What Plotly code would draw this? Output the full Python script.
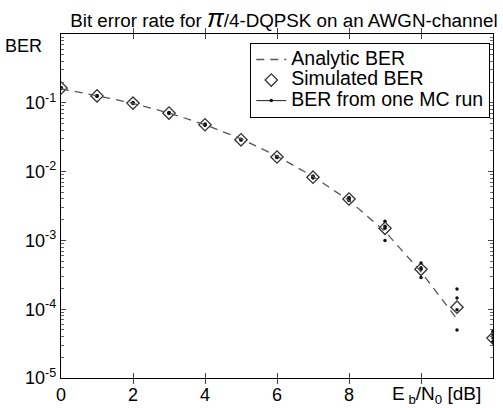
import plotly.graph_objects as go

ebn0 = [0, 1, 2, 3, 4, 5, 6, 7, 8, 9, 10, 11, 12]
ebn0_analytic = [0, 1, 2, 3, 4, 5, 6, 7, 8, 9, 10, 11]
ber_analytic = [0.160, 0.127, 0.098, 0.071, 0.048, 0.030, 0.0168, 0.0085, 0.0038,
                0.00135, 0.00035, 0.000072]
ber_simulated = [0.164, 0.126, 0.099, 0.071, 0.048, 0.029, 0.0163, 0.0083, 0.0040,
                 0.0015, 0.00038, 0.000107, 0.000038]
mc_run1 = [0.166, 0.127, 0.100, 0.072, 0.049, 0.0295, 0.0166, 0.0086, 0.0042, 0.0019, 0.00047, 0.000196, 0.000048]
mc_run2 = [0.163, 0.125, 0.098, 0.070, 0.047, 0.0288, 0.0160, 0.0081, 0.0039, 0.0010, 0.00029, 0.000145, 0.000042]
mc_run3 = [0.165, 0.126, 0.099, 0.071, 0.048, 0.0290, 0.0164, 0.0084, 0.0041, 0.0015, 0.00038, 0.000098, 0.000038]
mc_run4 = [0.162, 0.126, 0.099, 0.071, 0.048, 0.0292, 0.0162, 0.0082, 0.0038, 0.0016, 0.00040, 0.000050, 0.000034]

series_names = ["Analytic BER", "Simulated BER", "BER from one MC run"]
x_ticks = [0, 2, 4, 6, 8, 10, 12]
x_ticktext = ["0", "2", "4", "6", "8", "", ""]
y_ticks = [1e-5, 1e-4, 1e-3, 1e-2, 1e-1, 1]
y_ticktext = ["10<sup>-5</sup>", "10<sup>-4</sup>", "10<sup>-3</sup>",
              "10<sup>-2</sup>", "10<sup>-1</sup>", ""]
y_minor = [m * 10.0 ** e for e in range(-5, 0) for m in range(2, 10)]

FONT = "Liberation Sans, Arial, Helvetica, sans-serif"


def legend_label(s):
    # larger glyphs than the legend's nominal size -> compact row spacing like the reference
    return "<span style='font-size:19.5px'>" + s + "</span>"


# MC points: isolated points (no connecting line drawn), legend shows line+dot
mc_x, mc_y = [], []
for run in (mc_run1, mc_run2, mc_run3, mc_run4):
    for xv, yv in zip(ebn0, run):
        mc_x += [xv, None]
        mc_y += [yv, None]

fig = go.Figure()
# analytic line drawn on the overlaid (identical-range) axis that carries the minor ticks
fig.add_trace(go.Scatter(
    x=ebn0_analytic, y=ber_analytic, mode="lines", name=legend_label(series_names[0]), yaxis="y2",
    line=dict(color="#555555", width=1.3, dash="8px,6px")))
fig.add_trace(go.Scatter(
    x=ebn0, y=ber_simulated, mode="markers", name=legend_label(series_names[1]),
    marker=dict(symbol="diamond-open", size=9.5, color="#333333",
                line=dict(width=1.3, color="#333333"))))
fig.add_trace(go.Scatter(
    x=mc_x, y=mc_y, mode="lines+markers", name=legend_label(series_names[2]),
    connectgaps=False,
    line=dict(color="#222222", width=1),
    marker=dict(symbol="circle", size=3.5, color="#111111")))

fig.update_layout(
    width=503, height=408,
    margin=dict(l=61, r=10, t=34, b=30),
    paper_bgcolor="white", plot_bgcolor="white",
    font=dict(family=FONT, size=18, color="black"),
    title=dict(text="Bit error rate for <i><span style='font-size:25px'>π</span></i>/4-DQPSK on an AWGN-channel",
               xref="paper", x=0.516, xanchor="center",
               yref="container", y=0.967, yanchor="top",
               font=dict(family=FONT, size=18.8, color="black")),
    showlegend=True,
    legend=dict(x=0.993, xanchor="right", y=0.974, yanchor="top",
                bgcolor="white", bordercolor="black", borderwidth=1.3,
                font=dict(family=FONT, size=13.5), tracegroupgap=0, itemwidth=30),
    xaxis=dict(
        range=[0, 12], tickvals=x_ticks, ticktext=x_ticktext, automargin=False,
        ticks="inside", ticklen=5, tickcolor="#444444", tickwidth=1,
        showline=True, linecolor="black", linewidth=1.3, mirror="allticks",
        showgrid=False, zeroline=False, tickfont=dict(family=FONT, size=18)),
    yaxis=dict(
        type="log", range=[-5, 0], tickvals=y_ticks, ticktext=y_ticktext, automargin=False,
        ticks="inside", ticklen=5, tickcolor="#444444", tickwidth=1,
        showline=True, linecolor="black", linewidth=1.3, mirror="allticks",
        showgrid=False, zeroline=False, tickfont=dict(family=FONT, size=18)),
    yaxis2=dict(type="log", range=[-5, 0], overlaying="y", side="left", anchor="x",
                tickvals=y_minor, ticktext=[""] * len(y_minor), automargin=False,
                ticks="inside", ticklen=3, tickcolor="#666666", tickwidth=1,
                mirror="allticks", showline=False, showgrid=False, zeroline=False),
)

fig.add_annotation(text="BER", xref="paper", yref="paper", x=-0.135, y=0.965,
                   xanchor="left", yanchor="middle", showarrow=False,
                   font=dict(family=FONT, size=18))
fig.add_annotation(text="E<sub> b</sub>/N<sub>0</sub> [dB]", xref="x", yref="paper",
                   x=10.44, y=-0.01, xanchor="center", yanchor="top", showarrow=False,
                   font=dict(family=FONT, size=19))

fig.write_html("out.html", config={"displayModeBar": False},
               post_script="document.body.style.margin='0';document.body.style.overflow='hidden';")
